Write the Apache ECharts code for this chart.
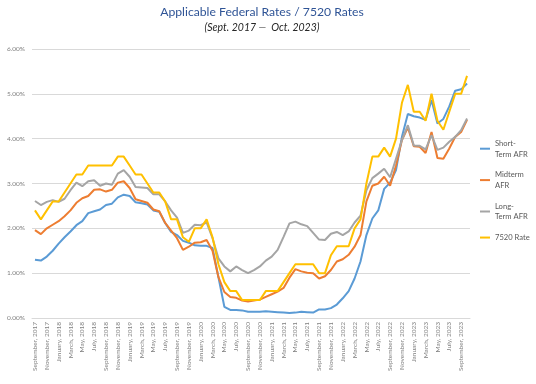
<!DOCTYPE html>
<html>
<head>
<meta charset="utf-8">
<script src="https://cdn.jsdelivr.net/npm/echarts@6/dist/echarts.min.js"></script>
<style>
html,body{margin:0;padding:0;background:#fff;}
#chart{width:536px;height:384px;}
</style>
</head>
<body>
<div id="chart"></div>
<script>
// ---- data ----
var monthNames = ['January','February','March','April','May','June','July','August','September','October','November','December'];
var startYear = 2017, startMonth = 8; // September 2017 (0-based month)
var monthCount = 74; // Sept 2017 - Oct 2023
var categories = [];
for (var k = 0; k < monthCount; k++) {
  var m = (startMonth + k) % 12;
  var y = startYear + Math.floor((startMonth + k) / 12);
  categories.push(monthNames[m] + ', ' + y);
}

var shortTermAFR = [1.30,1.28,1.37,1.50,1.66,1.80,1.93,2.07,2.16,2.34,2.38,2.42,2.52,2.55,2.69,2.75,
  2.72,2.58,2.56,2.53,2.40,2.37,2.12,1.92,1.85,1.72,1.68,1.62,
  1.61,1.61,1.56,0.91,0.25,0.18,0.18,0.17,0.14,0.14,0.14,0.15,
  0.14,0.13,0.12,0.11,0.12,0.14,0.13,0.12,0.19,0.19,0.22,0.30,
  0.44,0.60,0.88,1.26,1.85,2.22,2.40,2.88,3.02,3.30,4.04,4.55,
  4.50,4.47,4.42,4.86,4.34,4.44,4.72,5.07,5.10,5.23];

var midtermAFR = [1.96,1.87,2.00,2.08,2.16,2.27,2.40,2.57,2.67,2.72,2.86,2.87,2.82,2.86,3.02,3.05,
  2.90,2.65,2.61,2.57,2.42,2.38,2.12,1.95,1.78,1.52,1.59,1.68,
  1.69,1.74,1.50,0.91,0.58,0.47,0.45,0.39,0.37,0.39,0.41,0.47,
  0.53,0.59,0.67,0.90,1.09,1.04,1.01,1.00,0.88,0.93,1.07,1.26,
  1.31,1.41,1.59,1.85,2.60,2.95,3.00,3.15,2.95,3.40,3.97,4.25,
  3.83,3.82,3.68,4.15,3.57,3.55,3.78,4.04,4.15,4.42];

var longTermAFR = [2.61,2.52,2.59,2.63,2.59,2.66,2.85,3.02,2.94,3.05,3.07,2.95,3.00,2.97,3.22,3.30,
  3.15,2.92,2.91,2.90,2.76,2.76,2.60,2.40,2.24,1.90,1.95,2.08,
  2.07,2.13,1.78,1.33,1.15,1.04,1.15,1.07,1.00,1.07,1.15,1.28,
  1.37,1.52,1.81,2.11,2.15,2.09,2.05,1.90,1.75,1.74,1.88,1.92,
  1.85,1.93,2.13,2.28,2.85,3.12,3.22,3.33,3.14,3.55,3.97,4.30,
  3.85,3.84,3.76,4.08,3.75,3.80,3.93,4.04,4.19,4.45];

var rate7520 = [2.4,2.2,2.4,2.6,2.6,2.8,3.0,3.2,3.2,3.4,3.4,3.4,3.4,3.4,3.6,3.6,
  3.4,3.2,3.2,3.0,2.8,2.8,2.6,2.2,2.2,1.8,1.7,2.0,
  2.0,2.2,1.8,1.2,0.8,0.6,0.6,0.4,0.4,0.4,0.4,0.6,
  0.6,0.6,0.8,1.0,1.2,1.2,1.2,1.2,1.0,1.0,1.4,1.6,
  1.6,1.6,2.0,2.2,3.0,3.6,3.6,3.8,3.6,4.0,4.8,5.2,
  4.6,4.6,4.4,5.0,4.4,4.2,4.6,5.0,5.0,5.4];

var seriesNames = ['Short-\nTerm AFR', 'Midterm\nAFR', 'Long-\nTerm AFR', '7520 Rate'];
var seriesColors = ['#5B9BD5', '#ED7D31', '#A5A5A5', '#FFC000'];
var yTicks = { min: 0, max: 6, interval: 1 };

var chart = echarts.init(document.getElementById('chart'), null, { renderer: 'canvas' });
var seriesData = [shortTermAFR, midtermAFR, longTermAFR, rate7520];
var font = 'Lato, "Open Sans", "Liberation Sans", sans-serif';

chart.setOption({
  animation: false,
  backgroundColor: '#ffffff',
  textStyle: { fontFamily: font },
  graphic: [
    { type: 'text', x: 262, y: 12, style: { text: 'Applicable Federal Rates / 7520 Rates', fill: '#2F5496',
      font: '12.2px ' + font, textAlign: 'center', textVerticalAlign: 'middle' } },
    { type: 'text', x: 262, y: 28, style: { text: '(Sept. 2017 \u2014  Oct. 2023)', fill: '#262626',
      font: 'italic 10.5px ' + font, textAlign: 'center', textVerticalAlign: 'middle' } }
  ],
  grid: { left: 32, right: 66, top: 49, bottom: 66 },
  legend: {
    orient: 'vertical', left: 475, top: 133,
    icon: 'rect', itemWidth: 10, itemHeight: 2, itemGap: 10,
    data: seriesNames,
    textStyle: { fontSize: 7.6, lineHeight: 10.7, color: '#595959', fontFamily: font },
    selectedMode: false
  },
  xAxis: {
    type: 'category', data: categories, boundaryGap: true,
    axisLine: { lineStyle: { color: '#D9D9D9' } },
    axisTick: { show: false },
    axisLabel: { interval: 1, rotate: 90, fontSize: 6.5, color: '#7F7F7F', margin: 4, fontFamily: font }
  },
  yAxis: {
    type: 'value', min: yTicks.min, max: yTicks.max, interval: yTicks.interval,
    axisLine: { show: false }, axisTick: { show: false },
    splitLine: { lineStyle: { color: '#D9D9D9', width: 1 } },
    axisLabel: { fontSize: 6.5, color: '#7F7F7F', margin: 7, fontFamily: font,
      formatter: function (v) { return v.toFixed(2) + '%'; } }
  },
  series: seriesNames.map(function (n, idx) {
    return {
      name: n, type: 'line', data: seriesData[idx], symbol: 'none', smooth: false,
      lineStyle: { width: 2, color: seriesColors[idx] }, itemStyle: { color: seriesColors[idx] },
      emphasis: { disabled: true }
    };
  })
});
</script>
</body>
</html>
